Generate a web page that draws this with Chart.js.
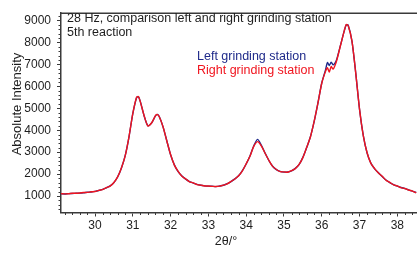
<!DOCTYPE html>
<html>
<head>
<meta charset="utf-8">
<script src="https://cdn.jsdelivr.net/npm/chart.js@4"></script>
<style>
html,body{margin:0;padding:0;background:#fff;overflow:hidden}
#wrap{width:420px;height:255px;position:relative}
</style>
</head>
<body>
<div id="wrap"><canvas id="c"></canvas></div>
<script>
const twoTheta=[29.1,29.2,29.3,29.4,29.5,29.6,29.7,29.8,29.9,30.0,30.1,30.2,30.3,30.4,30.5,30.6,30.7,30.8,30.9,31.0,31.1,31.15,31.2,31.3,31.4,31.5,31.6,31.65,31.7,31.8,31.9,32.0,32.1,32.2,32.3,32.4,32.5,32.6,32.7,32.8,32.9,33.0,33.1,33.2,33.3,33.4,33.5,33.6,33.7,33.8,33.9,34.0,34.1,34.2,34.3,34.4,34.5,34.6,34.7,34.8,34.9,35.0,35.1,35.2,35.3,35.4,35.5,35.6,35.7,35.8,35.9,36.0,36.1,36.15,36.2,36.25,36.3,36.35,36.4,36.5,36.6,36.65,36.7,36.8,36.9,37.0,37.1,37.2,37.3,37.4,37.5,37.6,37.7,37.8,37.9,38.0,38.1,38.2,38.3,38.4,38.5]
const leftStation=[1100,1095,1110,1115,1130,1135,1150,1170,1185,1210,1250,1300,1370,1460,1610,1880,2280,2850,3700,4750,5480,5520,5300,4650,4200,4330,4650,4720,4620,4150,3520,2880,2420,2110,1910,1770,1660,1590,1530,1490,1465,1450,1445,1430,1455,1490,1560,1660,1780,1920,2160,2460,2820,3280,3580,3320,2960,2620,2360,2200,2120,2090,2095,2150,2260,2430,2760,3200,3700,4400,5250,6150,6750,7080,6950,7100,6980,7050,7250,7900,8550,8800,8780,8050,6600,4950,3750,2960,2500,2240,2060,1890,1730,1610,1520,1450,1390,1340,1280,1220,1160]
const rightStation=[1110,1100,1105,1125,1125,1140,1160,1165,1195,1205,1260,1295,1380,1455,1620,1870,2290,2840,3710,4760,5500,5530,5290,4660,4190,4340,4660,4710,4610,4160,3510,2890,2410,2120,1900,1780,1650,1600,1520,1495,1460,1455,1440,1435,1450,1495,1555,1665,1775,1925,2150,2470,2810,3260,3480,3290,2950,2630,2350,2210,2110,2100,2085,2160,2250,2440,2750,3210,3690,4410,5240,6140,6680,6850,6650,6900,6780,6950,7200,7880,8560,8820,8760,8060,6590,4960,3740,2970,2490,2250,2050,1900,1720,1620,1510,1460,1380,1345,1275,1225,1150]
const xTicks=[30,31,32,33,34,35,36,37,38]
const yTicks=[1000,2000,3000,4000,5000,6000,7000,8000,9000]
const seriesNames=['Left grinding station','Right grinding station']
const noteLines=['28 Hz, comparison left and right grinding station','5th reaction']
const xTitle='2θ/°'
const yTitle='Absolute Intensity'

const blue='#1f2a8a', red='#f0141e', axisCol='#3a3a3a', textCol='#1e1e1e'
const font='"Liberation Sans", Arial, sans-serif'

const toPts=(ys)=>twoTheta.map((x,i)=>({x:x,y:ys[i]}))

const decor={
  id:'decor',
  afterDraw(chart){
    const ctx=chart.ctx, a=chart.chartArea, xs=chart.scales.x, ys=chart.scales.y
    ctx.save()
    ctx.strokeStyle=axisCol; ctx.lineWidth=1.5
    ctx.beginPath(); ctx.moveTo(a.left,a.top); ctx.lineTo(a.right,a.top); ctx.stroke()
    ctx.lineWidth=1
    ctx.beginPath()
    for(let v=Math.ceil(xs.min*5)/5; v<=xs.max; v+=0.2){
      const r=Math.round(v*10)/10
      if(Math.abs(r-Math.round(r))<0.01) continue
      const px=Math.round(xs.getPixelForValue(r))+0.5
      ctx.moveTo(px,a.bottom); ctx.lineTo(px,a.bottom+2.5)
    }
    for(let v=Math.ceil(ys.min/200)*200; v<=ys.max; v+=200){
      if(v%1000===0) continue
      const py=Math.round(ys.getPixelForValue(v))+0.5
      ctx.moveTo(a.left,py); ctx.lineTo(a.left-2.5,py)
    }
    ctx.stroke()
    ctx.fillStyle=textCol; ctx.textBaseline='middle'; ctx.textAlign='left'
    ctx.font='12.5px '+font
    ctx.fillText(noteLines[0],a.left+6,18.5)
    ctx.fillText(noteLines[1],a.left+6,33)
    ctx.fillStyle=blue; ctx.fillText(seriesNames[0],197,57)
    ctx.fillStyle=red; ctx.fillText(seriesNames[1],197,71)
    ctx.fillStyle=textCol; ctx.textAlign='center'
    ctx.font='12.5px '+font
    ctx.fillText(xTitle,226,242)
    ctx.translate(17,104); ctx.rotate(-Math.PI/2)
    ctx.font='13px '+font
    ctx.fillText(yTitle,0,0)
    ctx.restore()
  }
}

new Chart(document.getElementById('c'),{
  type:'line',
  data:{datasets:[
    {label:seriesNames[0],data:toPts(leftStation),borderColor:blue,borderWidth:1.4,pointRadius:0,tension:0.25,order:2},
    {label:seriesNames[1],data:toPts(rightStation),borderColor:red,borderWidth:1.4,pointRadius:0,tension:0.25,order:1}
  ]},
  options:{
    responsive:true,maintainAspectRatio:false,animation:false,
    layout:{padding:{top:3,left:0,right:0,bottom:0}},
    plugins:{legend:{display:false},tooltip:{enabled:false}},
    scales:{
      x:{type:'linear',min:29.1,max:38.6,
        afterBuildTicks:(s)=>{s.ticks=xTicks.map(v=>({value:v}))},
        afterFit:(s)=>{s.height=42.5},
        border:{display:true,color:axisCol,width:1.5},
        grid:{drawOnChartArea:false,drawTicks:true,tickLength:4,color:axisCol},
        ticks:{color:textCol,padding:2,font:{family:font,size:12},maxRotation:0,callback:(v)=>String(v)}},
      y:{type:'linear',min:250,max:9330,
        afterBuildTicks:(s)=>{s.ticks=yTicks.map(v=>({value:v}))},
        afterFit:(s)=>{s.width=61},
        border:{display:true,color:axisCol,width:1.5},
        grid:{drawOnChartArea:false,drawTicks:true,tickLength:4,color:axisCol},
        ticks:{color:textCol,padding:6,font:{family:font,size:12},callback:(v)=>String(v)}}
    }
  },
  plugins:[decor]
})
</script>
</body>
</html>
